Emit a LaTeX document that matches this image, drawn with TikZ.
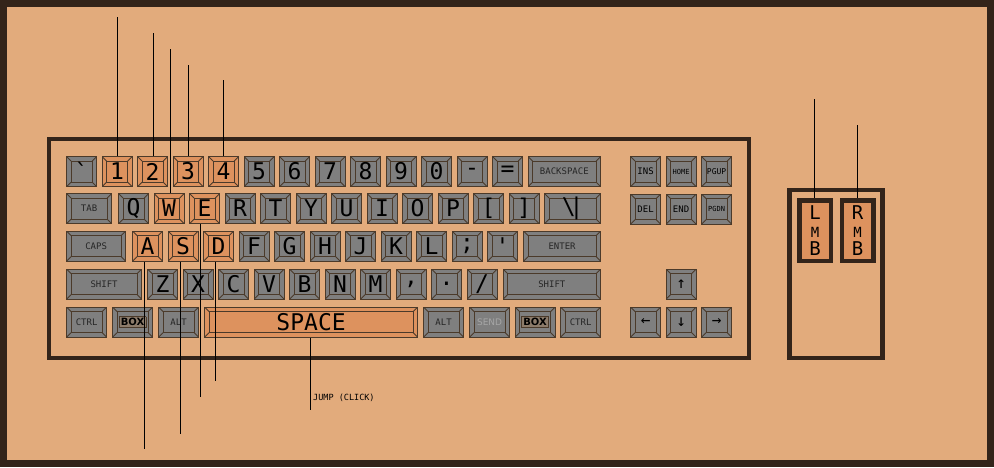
\documentclass[tikz,border=0pt]{standalone}
\usepackage{fontspec}
\usepackage{tikz}
\newfontfamily\pixfont{DejaVu Sans Mono}
\newfontfamily\tagfont{DejaVu Sans}
\definecolor{bgpeach}{HTML}{E2AB7C}
\definecolor{edgebrown}{HTML}{33241A}
\definecolor{keyedge}{HTML}{4B3A2A}
\definecolor{keygrey}{HTML}{7F7F7F}
\definecolor{keyorange}{HTML}{DD925E}
\definecolor{boxtag}{HTML}{8C7B6A}
\definecolor{sendgrey}{HTML}{A6A6A6}
\setlength{\fboxsep}{1.5pt}
\setlength{\fboxrule}{0.6pt}
\newcommand{\bigkey}{\pixfont\fontsize{23}{23}\selectfont}
\newcommand{\smallkey}{\pixfont\fontsize{9}{9}\selectfont}
\newcommand{\boxtext}{\fcolorbox{keyedge}{boxtag}{\tagfont\bfseries\fontsize{10}{10}\selectfont BOX}}

\tikzset{
  keycap/.style={draw=keyedge, line width=1.2pt, fill=keygrey, anchor=north west,
    minimum width=30, minimum height=30, inner sep=0pt, font=\bigkey, text=black,
    path picture={
      \draw[keyedge, line width=0.9pt]
        ([shift={(4.5pt,-4.5pt)}]path picture bounding box.north west) rectangle
        ([shift={(-4.5pt,4.5pt)}]path picture bounding box.south east);
      \draw[keyedge, line width=0.9pt]
        (path picture bounding box.north west) -- ++(4.5pt,-4.5pt)
        (path picture bounding box.north east) -- ++(-4.5pt,-4.5pt)
        (path picture bounding box.south west) -- ++(4.5pt,4.5pt)
        (path picture bounding box.south east) -- ++(-4.5pt,4.5pt);
    }},
  smalllbl/.style={font=\smallkey, text=black!85},
  frame/.style={draw=edgebrown, line width=4pt},
  lead/.style={black, line width=1pt},
  mbtn/.style={draw=edgebrown, line width=4.5pt, fill=keyorange, minimum width=31.5,
    minimum height=60.5, inner sep=0pt, align=center, text=black,
    font=\pixfont\fontsize{19}{15}\selectfont},
}

\begin{document}
\begin{tikzpicture}[x=1pt, y=-1pt]
  \useasboundingbox (0,0) rectangle (994,467);
  \fill[bgpeach] (0,0) rectangle (994,467);
  \draw[edgebrown, line width=7pt] (3.5,3.5) rectangle (990.5,463.5);

  % keyboard
  \draw[frame] (49,139) rectangle (749,358);

  % row 1
  \foreach \v/\c [count=\i from 0] in {\symbol{96}/keygrey, 1/keyorange, 2/keyorange,
      3/keyorange, 4/keyorange, 5/keygrey, 6/keygrey, 7/keygrey, 8/keygrey, 9/keygrey,
      0/keygrey, -/keygrey, =/keygrey}
    \node[keycap, fill=\c] (r1-\i) at (66+35.5*\i,156) {\v};
  \node[keycap, smalllbl, minimum width=72.5] (bksp) at (527.5,156) {BACKSPACE};

  % row 2
  \node[keycap, smalllbl, minimum width=45] (tab) at (66,193) {TAB};
  \foreach \v/\c [count=\i from 0] in {Q/keygrey, W/keyorange, E/keyorange, R/keygrey,
      T/keygrey, Y/keygrey, U/keygrey, I/keygrey, O/keygrey, P/keygrey, [/keygrey,
      ]/keygrey}
    \node[keycap, fill=\c] (r2-\i) at (118+35.5*\i,193) {\v};
  \node[keycap, minimum width=56] (bslash) at (544,193) {\textbackslash\kern-6pt|};

  % row 3
  \node[keycap, smalllbl, minimum width=59] (caps) at (66,230.5) {CAPS};
  \foreach \v/\c [count=\i from 0] in {A/keyorange, S/keyorange, D/keyorange, F/keygrey,
      G/keygrey, H/keygrey, J/keygrey, K/keygrey, L/keygrey, ;/keygrey,
      \symbol{39}/keygrey}
    \node[keycap, fill=\c] (r3-\i) at (132+35.5*\i,230.5) {\v};
  \node[keycap, smalllbl, minimum width=77] (enter) at (523,230.5) {ENTER};

  % row 4
  \node[keycap, smalllbl, minimum width=75] (lshift) at (66,268.5) {SHIFT};
  \foreach \v [count=\i from 0] in {Z,X,C,V,B,N,M,{,},.,/}
    \node[keycap] (r4-\i) at (147+35.5*\i,268.5) {\v};
  \node[keycap, smalllbl, minimum width=97.5] (rshift) at (502.5,268.5) {SHIFT};

  % row 5
  \node[keycap, smalllbl, minimum width=40] (lctrl) at (66,306.5) {CTRL};
  \node[keycap, minimum width=40] (lbox) at (112,306.5) {\boxtext};
  \node[keycap, smalllbl, minimum width=40] (lalt) at (158,306.5) {ALT};
  \node[keycap, fill=keyorange, minimum width=213] (space) at (204,306.5) {SPACE};
  \node[keycap, smalllbl, minimum width=40] (ralt) at (423,306.5) {ALT};
  \node[keycap, font=\tagfont\fontsize{9}{9}\selectfont, text=sendgrey,
    minimum width=40] (send) at (469,306.5) {SEND};
  \node[keycap, minimum width=40] (rbox) at (514.5,306.5) {\boxtext};
  \node[keycap, smalllbl, minimum width=40] (rctrl) at (560,306.5) {CTRL};

  % nav block
  \foreach \v/\f [count=\i from 0] in {INS/9, HOME/7, PGUP/8}
    \node[keycap, font=\pixfont\fontsize{\f}{\f}\selectfont] (n1-\i) at (630+35.5*\i,156) {\v};
  \foreach \v/\f [count=\i from 0] in {DEL/9, END/9, PGDN/7}
    \node[keycap, font=\pixfont\fontsize{\f}{\f}\selectfont] (n2-\i) at (630+35.5*\i,193.5) {\v};
  \node[keycap, font=\pixfont\fontsize{16}{16}\selectfont] (up) at (665.5,268.5) {↑};
  \foreach \v [count=\i from 0] in {←,↓,→}
    \node[keycap, font=\pixfont\fontsize{16}{16}\selectfont] (ar-\i) at (630+35.5*\i,306.5) {\v};

  % mouse
  \draw[frame, line width=4.5pt] (789.5,190) rectangle (882.5,358);
  \node[mbtn] (lmb) at (815,230.5) {L\\[3pt]{\fontsize{14}{14}\selectfont M}\\[3pt]B};
  \node[mbtn] (rmb) at (857.5,230.5) {R\\[3pt]{\fontsize{14}{14}\selectfont M}\\[3pt]B};

  % leader lines
  \coordinate (t1) at (117,17);
  \coordinate (t2) at (153,33);
  \coordinate (tw) at (170,49);
  \coordinate (t3) at (188,65);
  \coordinate (t4) at (223,80);
  \draw[lead] (t1) -- (t1 |- r1-1.north);
  \draw[lead] (t2) -- (t2 |- r1-2.north);
  \draw[lead] (tw) -- (tw |- r2-1.north);
  \draw[lead] (t3) -- (t3 |- r1-3.north);
  \draw[lead] (t4) -- (t4 |- r1-4.north);
  \coordinate (ba) at (144,449);
  \coordinate (bs) at (180,434);
  \coordinate (be) at (200,397);
  \coordinate (bd) at (215,381);
  \coordinate (bsp) at (310,410);
  \draw[lead] (ba |- r3-0.south) -- (ba);
  \draw[lead] (bs |- r3-1.south) -- (bs);
  \draw[lead] (be |- r2-2.south) -- (be);
  \draw[lead] (bd |- r3-2.south) -- (bd);
  \draw[lead] (bsp |- space.south) -- (bsp);
  \node[font=\pixfont\fontsize{8.5}{8.5}\selectfont, anchor=west, inner sep=0pt]
    (jump) at (313,398) {JUMP (CLICK)};
  \coordinate (tl) at (814,99);
  \coordinate (tr) at (857,125);
  \draw[lead] (tl) -- (tl |- lmb.north);
  \draw[lead] (tr) -- (tr |- rmb.north);
\end{tikzpicture}
\end{document}
